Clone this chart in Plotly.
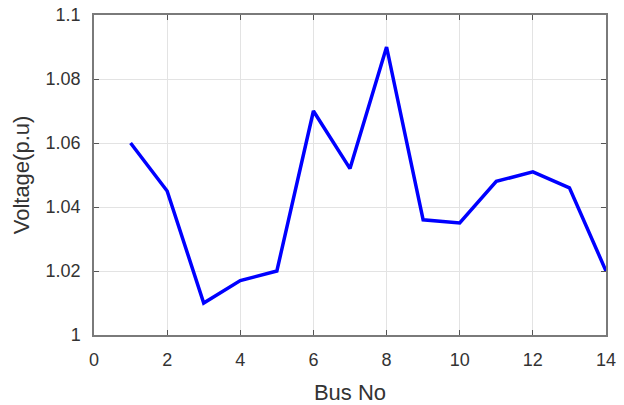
import plotly.graph_objects as go

bus_no = [1, 2, 3, 4, 5, 6, 7, 8, 9, 10, 11, 12, 13, 14]
voltage = [1.060, 1.045, 1.010, 1.017, 1.020, 1.070, 1.052, 1.090,
           1.036, 1.035, 1.048, 1.051, 1.046, 1.020]
x_ticks = [0, 2, 4, 6, 8, 10, 12, 14]
y_ticks = [1.0, 1.02, 1.04, 1.06, 1.08, 1.1]
y_tick_labels = ["1", "1.02", "1.04", "1.06", "1.08", "1.1"]

FONT = "Liberation Sans, Arial, sans-serif"

fig = go.Figure()
fig.add_trace(go.Scatter(x=bus_no, y=voltage, mode="lines",
                         line=dict(color="#0000ff", width=3.5),
                         showlegend=False))

axis_common = dict(
    showline=True, linecolor="#7a7a7a", linewidth=1.5, mirror="ticks",
    ticks="inside", ticklen=5, tickcolor="#555555", tickwidth=1,
    showgrid=True, gridcolor="#e3e3e3", gridwidth=1, zeroline=False,
    automargin=False,
    tickfont=dict(family=FONT, size=18, color="#333333"),
)

fig.update_layout(
    width=624, height=405,
    margin=dict(l=94, r=18, t=15, b=70),
    paper_bgcolor="white", plot_bgcolor="white",
    xaxis=dict(range=[0, 14], tickvals=x_ticks, ticklabelstandoff=8,
               title=dict(text="Bus No", standoff=15,
                          font=dict(family=FONT, size=22, color="#333333")),
               **axis_common),
    yaxis=dict(range=[1.0, 1.1], tickvals=y_ticks, ticktext=y_tick_labels,
               ticklabelstandoff=8,
               title=dict(text="Voltage(p.u)", standoff=10,
                          font=dict(family=FONT, size=22, color="#333333")),
               **axis_common),
)

fig.write_html("out.html",
               config={"displayModeBar": False},
               post_script="document.body.style.margin='0';document.body.style.overflow='hidden';")
